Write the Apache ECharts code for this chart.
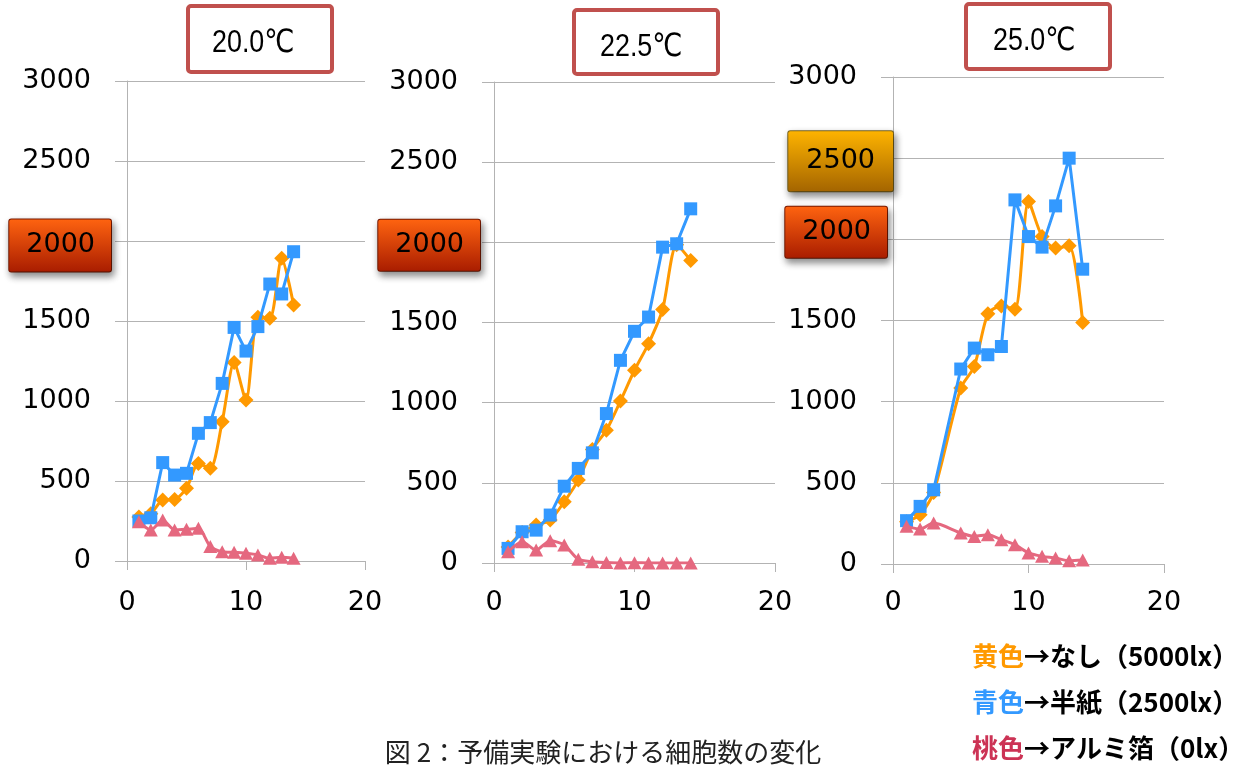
<!DOCTYPE html>
<html>
<head>
<meta charset="utf-8">
<script src="https://cdn.jsdelivr.net/npm/echarts@6/dist/echarts.min.js"></script>
<style>
  html, body { margin: 0; padding: 0; background: #ffffff; }
  #chart { width: 1255px; height: 769px; }
</style>
</head>
<body>
<div id="chart"></div>
<script>
// Culture day (x) and cell counts (y) for three incubation temperatures.
const days = [1, 2, 3, 4, 5, 6, 7, 8, 9, 10, 11, 12, 13, 14];
const temperatures = ['20.0℃', '22.5℃', '25.0℃'];
const xTicks = [0, 10, 20];
const yTicks = [0, 500, 1000, 1500, 2000, 2500, 3000];

// 20.0℃
const yellow20 = [275, 295, 381, 385, 454, 610, 579, 871, 1240, 1006, 1523, 1517, 1892, 1600];
const blue20   = [250, 270, 615, 537, 548, 798, 865, 1110, 1460, 1312, 1465, 1731, 1669, 1933];
const pink20   = [246, 194, 256, 194, 198, 204, 90, 58, 54, 48, 38, 17, 23, 17];

// 22.5℃
const yellow22 = [100, 190, 237, 268, 382, 517, 708, 828, 1011, 1202, 1368, 1581, 1985, 1887];
const blue22   = [91, 195, 205, 299, 479, 590, 687, 932, 1264, 1445, 1534, 1970, 1991, 2209];
const pink22   = [70, 133, 81, 139, 112, 23, 8, 3, 0, 2, 0, 0, 0, 0];

// 25.0℃ (no count on day 4)
const yellow25 = [260, 303, 440, null, 1084, 1217, 1541, 1590, 1570, 2233, 2017, 1946, 1960, 1488];
const blue25   = [267, 355, 457, null, 1201, 1330, 1289, 1340, 2243, 2017, 1952, 2206, 2500, 1816];
const pink25   = [232, 215, 252, null, 191, 170, 180, 150, 119, 68, 47, 37, 20, 25];

// Legend lines: colour word, condition
const legendColorWords = ['黄色', '青色', '桃色'];
const legendConditions = ['→なし（5000lx）', '→半紙（2500lx）', '→アルミ箔（0lx）'];
const caption = '図 2：予備実験における細胞数の変化';

const seriesColors = ['#FF9900', '#3399FF', '#E5687F'];
const legendWordColors = ['#FF9900', '#3399FF', '#CC3355'];
const seriesSymbols = ['diamond', 'rect', 'triangle'];
const seriesSymbolSizes = [[15, 15], [13, 13], [14, 13]];
const GRID_GRAY = '#b3b3b3';
const NUM_FONT = "'DejaVu Sans', 'Liberation Sans', sans-serif";
const CJK_FONT = "'Noto Sans CJK JP', 'Noto Sans', sans-serif";

function vGrad(top, bottom) {
  return new echarts.graphic.LinearGradient(0, 0, 0, 1, [
    { offset: 0, color: top },
    { offset: 1, color: bottom }
  ]);
}
const RED_BOX = { bg: ['#FF6410', '#A81C00'], border: '#7E1A00' };
const AMBER_BOX = { bg: ['#FFB400', '#A36400'], border: '#7A6620' };

const panels = [
  {
    data: [yellow20, blue20, pink20],
    grid: { left: 127, top: 81, width: 238, height: 480 },
    labelMargin: 14, numPad: 22, xLabelMargin: 28,
    marks: { 2000: { box: RED_BOX, pad: [12, 16, 13, 17], gap: 2, shift: 9 } },
    title: { x: 188, y: 6, w: 144, h: 66, tx: 212, ty: 43 }
  },
  {
    data: [yellow22, blue22, pink22],
    grid: { left: 494, top: 82, width: 281, height: 481 },
    labelMargin: 14, numPad: 22, xLabelMargin: 26,
    marks: { 2000: { box: RED_BOX, pad: [12, 16, 12, 17], gap: 0, shift: 6 } },
    title: { x: 574, y: 10, w: 144, h: 64, tx: 600, ty: 47 }
  },
  {
    data: [yellow25, blue25, pink25],
    grid: { left: 893, top: 77, width: 271, height: 487 },
    labelMargin: 0, numPad: 36, xLabelMargin: 25,
    marks: {
      2500: { box: AMBER_BOX, pad: [16, 18, 17, 18], gap: 0, shift: 6 },
      2000: { box: RED_BOX, pad: [12, 16, 12, 17], gap: 6, shift: -14 }
    },
    title: { x: 966, y: 4, w: 144, h: 65, tx: 993, ty: 41 }
  }
];

const grids = [], xAxes = [], yAxes = [], series = [], graphics = [];

panels.forEach((p, i) => {
  grids.push(Object.assign({ containLabel: false }, p.grid));

  xAxes.push({
    gridIndex: i, type: 'value', min: xTicks[0], max: xTicks[xTicks.length - 1], interval: 10,
    axisLine: { show: true, lineStyle: { color: GRID_GRAY, width: 1 } },
    axisTick: { show: true, length: 9, lineStyle: { color: GRID_GRAY } },
    splitLine: { show: false },
    axisLabel: { margin: p.xLabelMargin, color: '#000', fontSize: 27, fontFamily: NUM_FONT }
  });

  // rich styles for the plain tick labels and the highlighted boxes
  const rich = {
    n: { fontFamily: NUM_FONT, fontSize: 27, color: '#000', padding: [0, p.numPad, 0, 0] }
  };
  Object.keys(p.marks).forEach(v => {
    const m = p.marks[v];
    rich['b' + v] = {
      fontFamily: NUM_FONT, fontSize: 27, color: '#000',
      padding: m.pad,
      backgroundColor: vGrad(m.box.bg[0], m.box.bg[1]),
      borderColor: m.box.border, borderWidth: 1, borderRadius: 2,
      shadowBlur: 7, shadowColor: 'rgba(0,0,0,0.45)', shadowOffsetX: 2, shadowOffsetY: 4
    };
    rich['g' + v] = { fontSize: 1, width: Math.max(m.gap, 0.01), height: 1 };
    rich['s' + v] = { fontSize: 1, height: Math.abs(m.shift) };
  });

  yAxes.push({
    gridIndex: i, type: 'value', min: yTicks[0], max: yTicks[yTicks.length - 1], interval: 500,
    axisLine: { show: true, lineStyle: { color: GRID_GRAY, width: 1 } },
    axisTick: { show: true, length: 12, lineStyle: { color: GRID_GRAY } },
    splitLine: { show: true, lineStyle: { color: GRID_GRAY, width: 1 } },
    axisLabel: {
      margin: p.labelMargin,
      formatter: function (value) {
        const m = p.marks[value];
        if (!m) return '{n|' + value + '}';
        let s = '{b' + value + '|' + value + '}';
        if (m.gap > 0) s += '{g' + value + '| }';
        if (m.shift > 0) s = '{s' + value + '| }\n' + s;
        else if (m.shift < 0) s = s + '\n{s' + value + '| }';
        return s;
      },
      rich: rich
    }
  });

  p.data.forEach((values, k) => {
    series.push({
      type: 'line',
      name: legendConditions[k],
      xAxisIndex: i, yAxisIndex: i,
      data: days.map((d, j) => [d, values[j]]),
      connectNulls: true,
      smooth: k === 1 ? false : 0.25,
      symbol: seriesSymbols[k],
      symbolSize: seriesSymbolSizes[k],
      showSymbol: true,
      lineStyle: { color: seriesColors[k], width: 3 },
      itemStyle: { color: seriesColors[k] },
      z: 2 + k
    });
  });

  // temperature label in a framed box above each plot (condensed lettering)
  graphics.push({
    type: 'rect',
    shape: { x: p.title.x, y: p.title.y, width: p.title.w, height: p.title.h, r: 3 },
    style: { fill: '#ffffff', stroke: '#C0504D', lineWidth: 4 }
  });
  graphics.push({
    type: 'text',
    x: p.title.tx, y: p.title.ty,
    scaleX: 0.84,
    style: {
      text: temperatures[i],
      fill: '#000',
      fontSize: 32,
      fontFamily: "'Liberation Sans', 'DejaVu Sans', sans-serif",
      textAlign: 'left', textVerticalAlign: 'middle'
    }
  });
});

// colour key, bottom right
legendColorWords.forEach((word, k) => {
  graphics.push({
    type: 'text',
    x: 972, y: 656 + k * 46,
    style: {
      text: '{c|' + word + '}{k|' + legendConditions[k] + '}',
      textAlign: 'left', textVerticalAlign: 'middle',
      rich: {
        c: { fill: legendWordColors[k], fontSize: 26, fontWeight: 'bold', fontFamily: CJK_FONT },
        k: { fill: '#000', fontSize: 26, fontWeight: 'bold', fontFamily: CJK_FONT }
      }
    }
  });
});

graphics.push({
  type: 'text',
  x: 603, y: 752,
  style: {
    text: caption, fill: '#222', fontSize: 26, fontFamily: CJK_FONT,
    textAlign: 'center', textVerticalAlign: 'middle'
  }
});

const chart = echarts.init(document.getElementById('chart'), null, { renderer: 'canvas' });
chart.setOption({
  animation: false,
  backgroundColor: '#ffffff',
  grid: grids,
  xAxis: xAxes,
  yAxis: yAxes,
  series: series,
  graphic: graphics
});
</script>
</body>
</html>
